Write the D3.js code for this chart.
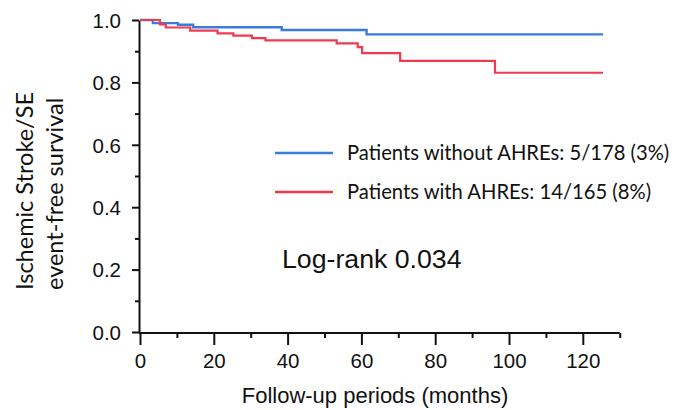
<!DOCTYPE html>
<html>
<head>
<meta charset="utf-8">
<title>KM curve</title>
<script src="https://d3js.org/d3.v7.min.js"></script>
<style>
  body { margin: 0; background: #fff; }
  .tick text { font-family: "Liberation Sans", Arial, sans-serif; font-size: 20.5px; fill: #111; }
  .domain, .tick line { stroke: #111; stroke-width: 2; }
</style>
</head>
<body>
<script>
// survival steps (months, survival)
var blueTimes = [0, 3.5, 10.3, 14.4, 38.4, 61.4, 125.5];
var blueSurv  = [1.0, 0.990, 0.985, 0.977, 0.968, 0.954, 0.954];
var redTimes  = [0, 5.4, 7.0, 13.6, 21.0, 25.3, 30.3, 34.0, 53.3, 59.0, 60.2, 70.5, 96.2, 125.5];
var redSurv   = [1.0, 0.986, 0.976, 0.966, 0.957, 0.950, 0.942, 0.935, 0.925, 0.913, 0.894, 0.869, 0.831, 0.831];

var xTicks = [0, 20, 40, 60, 80, 100, 120];
var yTicks = [0, 0.2, 0.4, 0.6, 0.8, 1.0];
var legendLabels = ["Patients without AHREs: 5/178 (3%)", "Patients with AHREs: 14/165 (8%)"];

var W = 687, H = 410;
var svg = d3.select("body").append("svg").attr("width", W).attr("height", H);

var x = d3.scaleLinear().domain([0, 130]).range([140, 619.7]);
var y = d3.scaleLinear().domain([0, 1]).range([332, 20]);

// minor ticks
svg.append("g")
  .attr("transform", "translate(0,333)")
  .call(d3.axisBottom(x).tickValues(d3.range(10, 131, 20)).tickSize(5).tickFormat(""))
  .select(".domain").remove();
svg.append("g")
  .attr("transform", "translate(139,0)")
  .call(d3.axisLeft(y).tickValues([0.1, 0.3, 0.5, 0.7, 0.9]).tickSize(4).tickFormat(""))
  .select(".domain").remove();

// major axes
svg.append("g")
  .attr("transform", "translate(0,333)")
  .call(d3.axisBottom(x).tickValues(xTicks).tickSize(12).tickSizeOuter(0).tickPadding(8))
  .select(".domain").attr("d", "M139,0H" + x(130));
svg.append("g")
  .attr("transform", "translate(139,0)")
  .call(d3.axisLeft(y).tickValues(yTicks).tickSize(7).tickSizeOuter(0).tickPadding(11)
    .tickFormat(d3.format(".1f")))
  .selectAll(".tick text").attr("dy", "0.36em");

var line = d3.line()
  .x(function(d) { return x(d[0]); })
  .y(function(d) { return y(d[1]); })
  .curve(d3.curveStepAfter);

function pairs(t, s) { return t.map(function(v, i) { return [v, s[i]]; }); }

svg.append("path").datum(pairs(blueTimes, blueSurv))
  .attr("d", line).attr("fill", "none").attr("stroke", "#3b7be0").attr("stroke-width", 2.4);
svg.append("path").datum(pairs(redTimes, redSurv))
  .attr("d", line).attr("fill", "none").attr("stroke", "#f03a50").attr("stroke-width", 2.2);

// legend
var legColors = ["#3b7be0", "#f03a50"];
legendLabels.forEach(function(lab, i) {
  var ly = 153 + i * 39;
  svg.append("line").attr("x1", 275).attr("x2", 333).attr("y1", ly).attr("y2", ly)
    .attr("stroke", legColors[i]).attr("stroke-width", 2.4);
  svg.append("text").attr("x", 347).attr("y", ly + 6.5)
    .attr("font-family", "Lato, 'Open Sans', sans-serif").attr("font-size", 20.2)
    .attr("fill", "#111").text(lab);
});

svg.append("text").attr("x", 282).attr("y", 268)
  .attr("font-family", "'Liberation Sans', Arial, sans-serif").attr("font-size", 26.7)
  .attr("fill", "#111").text("Log-rank 0.034");

svg.append("text").attr("x", 375).attr("y", 403).attr("text-anchor", "middle")
  .attr("font-family", "'Liberation Sans', Arial, sans-serif").attr("font-size", 22)
  .attr("fill", "#111").text("Follow-up periods (months)");

var yt = svg.append("text").attr("transform", "translate(41,290) rotate(-90)")
  .attr("text-anchor", "start")
  .attr("font-family", "Lato, 'Open Sans', sans-serif").attr("font-size", 23.5)
  .attr("fill", "#111");
yt.append("tspan").attr("x", 0).attr("y", -8).text("Ischemic Stroke/SE");
yt.append("tspan").attr("x", 0).attr("y", 22).text("event-free survival");
</script>
</body>
</html>
